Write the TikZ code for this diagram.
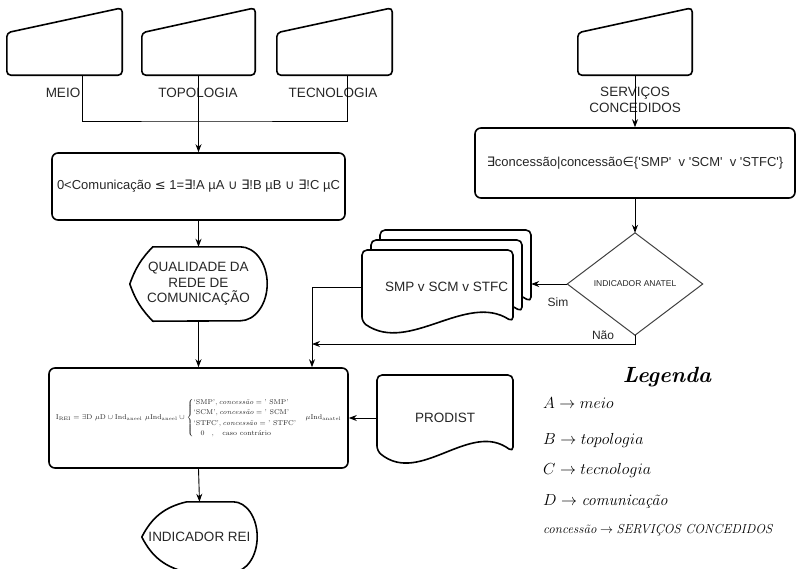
\RequirePackage{fix-cm}
\documentclass[tikz,border=0pt]{standalone}
\usepackage{amsmath}
\usepackage{fontspec}
\newfontfamily\arialf{Liberation Sans}
\newfontfamily\symf{DejaVu Sans}
\usetikzlibrary{arrows.meta,calc,positioning}

\begin{document}
\begin{tikzpicture}[x=1pt, y=-1pt,
    shapeline/.style={line width=1.6pt, line join=round},
    conn/.style={line width=0.9pt},
    arr/.style={conn, -{Stealth[length=8pt,width=6pt]}},
    txt/.style={font=\arialf\fontsize{13.5}{15.5}\selectfont, text=black!85, inner sep=0pt, align=center},
    procbox/.style={txt, shapeline, draw, rounded corners=6pt},
    hold/.style={inner sep=0pt},
    small/.style={font=\arialf\fontsize{12}{14}\selectfont, text=black!85, inner sep=0pt},
    legitem/.style={anchor=west, inner sep=0pt, font=\fontsize{16}{18}\selectfont}]
    \useasboundingbox (0,0) rectangle (797,568);

    % Manual inputs
    \node[hold, minimum width=115pt, minimum height=67pt] (meio) at (64.5,41.5) {};
    \node[hold, minimum width=113pt, minimum height=67pt] (topo) at (198.5,41.5) {};
    \node[hold, minimum width=115pt, minimum height=67pt] (tecno) at (334.5,41.5) {};
    \node[hold, minimum width=114pt, minimum height=67pt] (serv) at (635,41.5) {};
    \foreach \n in {meio,topo,tecno,serv} {
        \draw[shapeline, rounded corners=4pt] (\n.south west) -- ($(\n.north west)!0.37!(\n.south west)$) -- (\n.north east) -- (\n.south east) -- cycle;
    }

    \node[txt] (meiolbl) at (63,93) {MEIO};
    \node[txt] (topolbl) at (198,93) {TOPOLOGIA};
    \node[txt] (tecnolbl) at (333,93) {TECNOLOGIA};
    \node[txt] (servlbl) at (635,100) {SERVIÇOS\\CONCEDIDOS};

    % Process boxes
    \node[procbox, minimum width=293pt, minimum height=67pt, font=\arialf\fontsize{13}{15}\selectfont] (comm) at (198.5,186.5) {0<Comunicação {\symf ≤} 1={\symf ∃}!A µA {\symf ∪} {\symf ∃}!B µB {\symf ∪} {\symf ∃}!C µC};
    \node[procbox, minimum width=320pt, minimum height=70pt, font=\arialf\fontsize{13}{15}\selectfont] (crit) at (635,163) {{\symf ∃}concessão|concessão{\symf ∈}\{'SMP'\ \ v 'SCM'\ \ v 'STFC'\}};
    \node[procbox, minimum width=299pt, minimum height=100pt, font=\fontsize{7}{8.5}\selectfont] (irei) at (198.5,418) {$\mathrm{I}_{\mathrm{REI}} = \exists\mathrm{D}\ \mu\mathrm{D} \cup \mathrm{Ind}_{\mathrm{aneel}}\ \mu\mathrm{Ind}_{\mathrm{aneel}} \cup \begin{cases} \text{‘SMP’}, \textit{concessão} =\text{’ SMP’} \\ \text{‘SCM’}, \textit{concessão} =\text{’ SCM’} \\ \text{‘STFC’}, \textit{concessão} =\text{’ STFC’} \\ \quad 0 \quad ,\quad \text{caso contrário} \end{cases} \mu\mathrm{Ind}_{\mathrm{anatel}}$};

    % Displays
    \node[hold, txt, minimum width=137pt, minimum height=74pt] (qual) at (198.5,284) {QUALIDADE DA\\REDE DE\\COMUNICAÇÃO};
    \draw[shapeline] ([xshift=23pt]qual.north west) -- ([xshift=-27pt]qual.north east) arc[start angle=90, end angle=-90, x radius=27pt, y radius=37pt] -- ([xshift=23pt]qual.south west) to[bend left=12] (qual.west) to[bend left=12] ([xshift=23pt]qual.north west) -- cycle;
    \node[hold, txt, minimum width=115pt, minimum height=70pt] (rei) at (199.5,537) {INDICADOR REI};
    \draw[shapeline] ([xshift=45pt]rei.north west) -- ([xshift=-24pt]rei.north east) arc[start angle=90, end angle=-90, x radius=24pt, y radius=35pt] -- ([xshift=45pt]rei.south west) to[bend left=25] (rei.west) to[bend left=25] ([xshift=45pt]rei.north west) -- cycle;

    % Decision
    \node[hold, font=\arialf\fontsize{8.5}{10}\selectfont, text=black!85, minimum width=135pt, minimum height=102pt] (ind) at (635,284) {INDICADOR ANATEL};
    \draw[line width=1pt, black!75] (ind.north) -- (ind.east) -- (ind.south) -- (ind.west) -- cycle;

    % Documents
    \begin{scope}[shift={(446.5,287)}]
        \foreach \d in {2,1,0} {
            \draw[shapeline, fill=white, rounded corners=5pt, shift={(9*\d,-10*\d)}] (-84.5,-37) -- (66.5,-37) -- (66.5,35) .. controls (19.5,5) and (-37.5,67) .. (-84.5,35) -- cycle;
        }
    \end{scope}
    \node[hold, txt, minimum width=169pt, minimum height=80pt] (smp) at (446.5,287) {SMP v SCM v STFC};
    \begin{scope}[shift={(445,418)}]
        \draw[shapeline, fill=white, rounded corners=5pt] (-68,-43) -- (68,-43) -- (68,34) .. controls (25,2) and (-25,68) .. (-68,33) -- cycle;
    \end{scope}
    \node[hold, txt, minimum width=136pt, minimum height=86pt] (prodist) at (445,418) {PRODIST};

    % Connectors
    \coordinate (jn) at (199,121);
    \coordinate (jn2) at (312,344);
    \draw[conn] ([xshift=17.5pt]meio.south) |- (jn) -| ([xshift=12.5pt]tecno.south);
    \draw[arr] (topo.south) -- (comm.north);
    \draw[arr] (comm.south) -- (qual.north);
    \draw[arr] (qual.south) -- (irei.north);
    \draw[arr] (irei.south) -- (rei.north);
    \draw[arr] (serv.south) -- (crit.north);
    \draw[arr] (crit.south) -- (ind.north);
    \draw[arr] (ind.west) -- (ind.west -| smp.east);
    \draw[arr] (smp.west) -| (irei.north -| jn2);
    \draw[arr] (ind.south) |- (jn2);
    \draw[arr] (prodist.west) -- (prodist.west -| irei.east);
    \node[small] (sim) at (558,302) {Sim};
    \node[small] (nao) at (603,335) {Não};

    % Legend
    \node[font=\bfseries\itshape\fontsize{22}{24}\selectfont, inner sep=0pt] (leg) at (667,377) {Legenda};
    \node[legitem] (lega) at (543,403) {$A \rightarrow meio$};
    \node[legitem] (legb) at (543,440) {$B \rightarrow topologia$};
    \node[legitem] (legc) at (543,470) {$C \rightarrow tecnologia$};
    \node[legitem] (legd) at (543,502) {$D \rightarrow \textit{comunicação}$};
    \node[legitem, font=\fontsize{13}{15}\selectfont] (lege) at (543,530) {$\textit{concessão} \rightarrow \textit{SERVIÇOS CONCEDIDOS}$};
\end{tikzpicture}
\end{document}
